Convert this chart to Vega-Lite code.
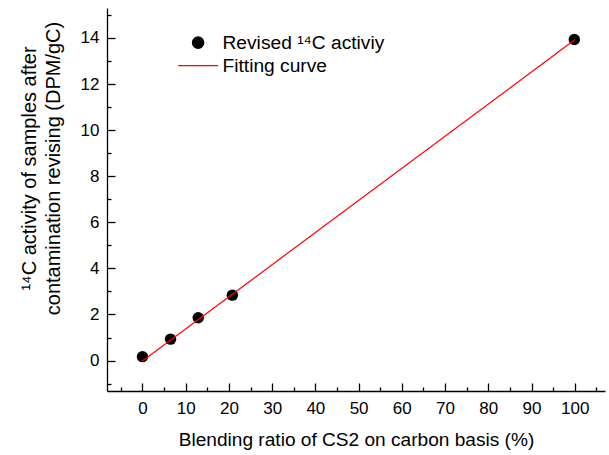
{
  "$schema": "https://vega.github.io/schema/vega-lite/v6.json",
  "width": 498,
  "height": 383,
  "autosize": "none",
  "padding": {"left": 107, "top": 8, "right": 4, "bottom": 64},
  "background": "white",
  "config": {
    "view": {"stroke": null},
    "font": "Liberation Sans",
    "axis": {
      "grid": false,
      "domainColor": "black",
      "tickColor": "black",
      "labelColor": "black",
      "titleColor": "black",
      "labelFont": "Liberation Sans",
      "titleFont": "Liberation Sans",
      "labelFontSize": 17,
      "titleFontSize": 19.1,
      "titleFontWeight": "normal",
      "domainWidth": 1.3,
      "tickWidth": 1.3
    },
    "legend": {
      "orient": "none",
      "legendX": 81.5,
      "legendY": 25,
      "title": null,
      "padding": 0,
      "labelFont": "Liberation Sans",
      "labelFontSize": 19.2,
      "labelColor": "black",
      "labelLimit": 400,
      "symbolSize": 130,
      "labelOffset": 14.8,
      "rowPadding": 3
    }
  },
  "datasets": {
    "measured": [
      {"ratio": 0, "activity": 0.17},
      {"ratio": 6.5, "activity": 0.93},
      {"ratio": 12.9, "activity": 1.86},
      {"ratio": 20.8, "activity": 2.84},
      {"ratio": 99.9, "activity": 13.93}
    ],
    "fit": [
      {"ratio": 0, "activity": -0.02},
      {"ratio": 100, "activity": 13.92}
    ]
  },
  "layer": [
    {
      "data": {"name": "measured"},
      "mark": {"type": "point", "filled": true, "size": 130, "opacity": 1},
      "encoding": {
        "x": {
          "field": "ratio", "type": "quantitative",
          "scale": {"domain": [-8.2, 107], "nice": false, "zero": false},
          "axis": {
            "orient": "bottom",
            "values": [0, 10, 20, 30, 40, 50, 60, 70, 80, 90, 100],
            "tickSize": -8,
            "labelPadding": 17,
            "title": "Blending ratio of CS2 on carbon basis (%)",
            "titlePadding": 14
          }
        },
        "y": {
          "field": "activity", "type": "quantitative",
          "scale": {"domain": [-1.32, 15.3], "nice": false, "zero": false},
          "axis": {
            "orient": "left",
            "values": [0, 2, 4, 6, 8, 10, 12, 14],
            "tickSize": -8,
            "labelPadding": 16,
            "title": ["¹⁴C activity of samples after", "contamination revising (DPM/gC)"],
            "titleFontSize": 20,
            "titleLineHeight": 24,
            "titlePadding": 17,
            "titleAlign": "center",
            "titleY": 160
          }
        },
        "color": {
          "datum": "Revised ¹⁴C activiy",
          "type": "nominal",
          "scale": {"domain": ["Revised ¹⁴C activiy", "Fitting curve"], "range": ["black", "#ff0000"]},
          "legend": {
            "encode": {
              "symbols": {
                "update": {
                  "shape": {"signal": "datum.value === 'Fitting curve' ? 'M-3.5,0H3.5' : 'circle'"},
                  "fill": {"signal": "datum.value === 'Fitting curve' ? 'transparent' : 'black'"},
                  "stroke": {"scale": "color", "field": "value"},
                  "strokeWidth": {"value": 1.2},
                  "strokeOpacity": {"value": 1},
                  "opacity": {"value": 1}
                }
              }
            }
          }
        }
      }
    },
    {
      "data": {"name": "fit"},
      "mark": {"type": "line", "strokeWidth": 1.2},
      "encoding": {
        "x": {
          "field": "ratio", "type": "quantitative",
          "axis": {
            "orient": "bottom",
            "values": [-5, 5, 15, 25, 35, 45, 55, 65, 75, 85, 95, 105],
            "tickSize": -4,
            "labels": false,
            "domain": false,
            "title": null
          }
        },
        "y": {
          "field": "activity", "type": "quantitative",
          "axis": {
            "orient": "left",
            "values": [-1, 1, 3, 5, 7, 9, 11, 13, 15],
            "tickSize": -4,
            "labels": false,
            "domain": false,
            "title": null
          }
        },
        "color": {
          "datum": "Fitting curve",
          "type": "nominal",
          "legend": {
            "encode": {
              "symbols": {
                "update": {
                  "shape": {"signal": "datum.value === 'Fitting curve' ? 'M-3.5,0H3.5' : 'circle'"},
                  "fill": {"signal": "datum.value === 'Fitting curve' ? 'transparent' : 'black'"},
                  "stroke": {"scale": "color", "field": "value"},
                  "strokeWidth": {"value": 1.2},
                  "strokeOpacity": {"value": 1},
                  "opacity": {"value": 1}
                }
              }
            }
          }
        }
      }
    }
  ],
  "resolve": {"axis": {"x": "independent", "y": "independent"}}
}
